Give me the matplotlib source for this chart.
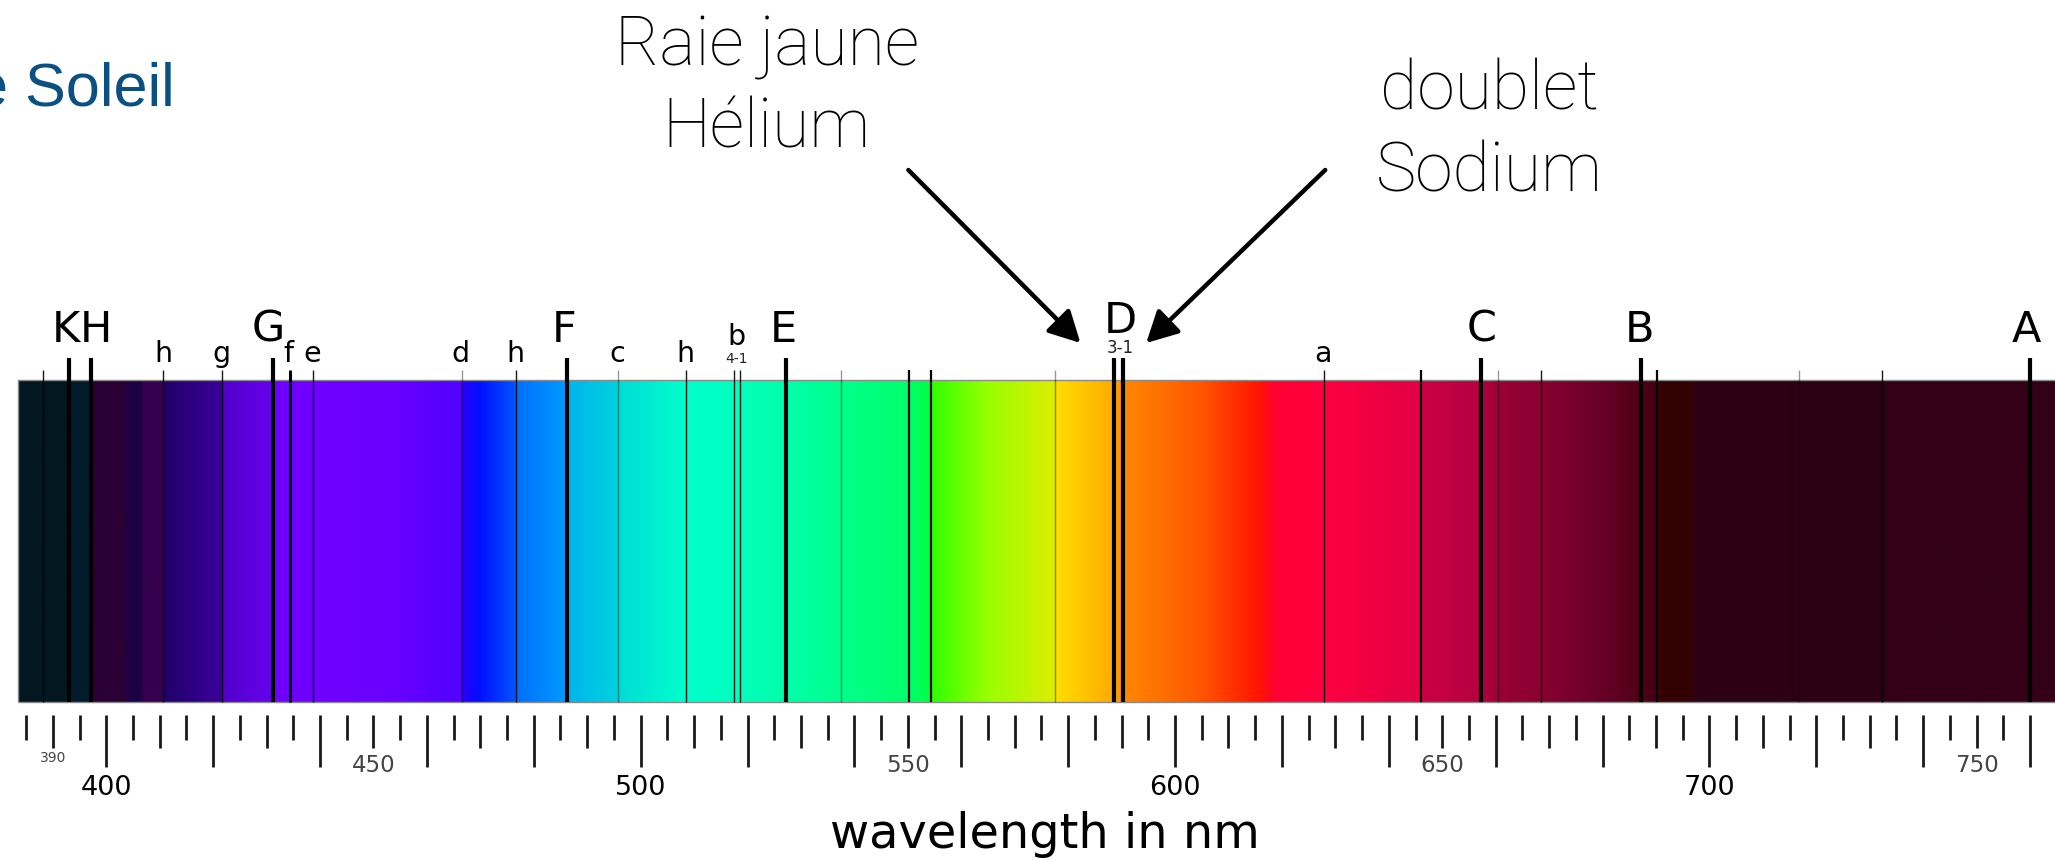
import numpy as np
import matplotlib
matplotlib.use('Agg')
import matplotlib.pyplot as plt
from matplotlib import font_manager as fm
from matplotlib.colors import to_rgb

# colour stops of the solar spectrum (nm, colour)
spec_nm = [383.5, 392.9, 393.2, 397.0, 397.3, 403.5, 404.0, 406.5, 407.0, 410.5,
           410.7, 421.5, 421.7, 430.9, 431.2, 452.0, 466.4, 466.8, 470.0, 476.5,
           476.7, 486.0, 486.3, 495.5, 495.8, 508.4, 518.0, 527.3, 537.3, 550.3,
           554.2, 554.5, 565.0, 577.6, 577.8, 588.5, 590.5, 605.0, 615.5, 619.0,
           627.8, 646.0, 646.2, 657.3, 660.4, 668.5, 680.0, 687.3, 690.3, 691.0,
           696.5, 697.0, 733.0, 733.3, 765.0]
spec_col = ['#021820', '#021820', '#021c2c', '#021c2c', '#2a0035', '#2a0035', '#1e0045', '#1e0045', '#35004f', '#35004f',
            '#200068', '#3a009a', '#5200c8', '#6600ee', '#7000ff', '#6c00ff', '#5000ff', '#2800ff', '#0010ff', '#0055ff',
            '#0070ff', '#0099ff', '#00b4ee', '#00d2dd', '#00dcd6', '#00ffcc', '#00ffbc', '#00ffaa', '#00ff8c', '#00ff6a',
            '#00ff44', '#30ff00', '#99ff00', '#dded00', '#ffdd00', '#ffaa00', '#ff8800', '#ff5500', '#ff1500', '#ff0035',
            '#ff0040', '#e00045', '#cc0044', '#b40040', '#9a0035', '#8a0030', '#660025', '#500018', '#440012', '#330000',
            '#330003', '#2e0012', '#2c0014', '#330018', '#330018']

# absorption lines (nm) and their kind
line_nm = [388.2, 393.1, 397.1, 410.6, 421.6, 431.2, 434.4, 438.6, 466.6, 476.6,
           486.2, 495.7, 508.5, 517.4, 518.5, 527.2, 537.5, 550.2, 554.4, 577.6,
           588.6, 590.3, 627.9, 646.1, 657.2, 660.4, 668.5, 687.2, 690.2, 716.8,
           732.3, 759.9]
line_kind = ['thin', 'major', 'major', 'thin', 'thin', 'major', 'strong', 'thin', 'faint', 'thin',
             'major', 'faint', 'thin', 'thin', 'thin', 'major', 'faint', 'mid', 'mid', 'faint',
             'major', 'major', 'thin', 'mid', 'major', 'faint', 'thin', 'major', 'mid', 'faint',
             'thin', 'major']

# Fraunhofer letters
big_letters = ['K', 'H', 'G', 'F', 'E', 'D', 'C', 'B', 'A']
big_letter_nm = [392.5, 398.0, 430.3, 485.6, 526.8, 589.7, 657.3, 686.9, 759.3]
small_letters = ['h', 'g', 'f', 'e', 'd', 'h', 'c', 'h', 'b', 'a']
small_letter_nm = [410.6, 421.6, 434.0, 438.6, 466.2, 476.6, 495.7, 508.3, 517.9, 627.7]
sub_labels = ['4-1', '3-1']
sub_label_nm = [517.9, 589.7]

# ruler
tick_nm = np.arange(385, 761, 5)
big_tick_labels = [400, 500, 600, 700]
small_tick_labels = [390, 450, 550, 650, 750]

# annotations
notes = [['Raie jaune', 'Hélium'], ['doublet', 'Sodium']]
note_nm = [523.6, 658.9]
arrow_from_nm = [550.1, 628.1]
arrow_to_nm = [582.3, 594.6]


def light_family():
    for fam in ['Roboto', 'Lato', 'Open Sans']:
        for f in fm.fontManager.ttflist:
            w = f.weight if isinstance(f.weight, int) else fm.weight_dict.get(f.weight, 400)
            if f.name == fam and w <= 300:
                return fam
    return 'Liberation Sans'


kind_style = {
    'major': dict(top=358, lw=3.0, color='black', alpha=1.0),
    'strong': dict(top=370, lw=2.2, color='black', alpha=1.0),
    'mid': dict(top=370, lw=1.6, color='black', alpha=1.0),
    'thin': dict(top=370, lw=1.0, color='black', alpha=0.9),
    'faint': dict(top=370, lw=1.0, color='black', alpha=0.4),
}

fig = plt.figure(figsize=(20.55, 8.6), dpi=100)
ax = fig.add_axes([0, 0, 1, 1])

# spectrum band
grid = np.linspace(spec_nm[0], spec_nm[-1], 4000)
rgb = np.array([to_rgb(c) for c in spec_col])
img = np.stack([np.interp(grid, spec_nm, rgb[:, k]) for k in range(3)], axis=-1)[None, :, :]
ax.imshow(img, extent=[spec_nm[0], spec_nm[-1], 702, 380], aspect='auto', interpolation='bilinear')
ax.hlines([380, 702], spec_nm[0], spec_nm[-1], color='#8a8a8a', lw=1)
ax.vlines(spec_nm[0], 380, 702, color='#8a8a8a', lw=1)

for nm, kind in zip(line_nm, line_kind):
    st = kind_style[kind]
    ax.vlines(nm, st['top'], 702, color=st['color'], lw=st['lw'], alpha=st['alpha'])

for lab, nm in zip(big_letters, big_letter_nm):
    y = 333 if lab == 'D' else 342
    ax.text(nm, y, lab, fontsize=31, ha='center', va='baseline')
for lab, nm in zip(small_letters, small_letter_nm):
    y = 345 if lab == 'b' else 362
    ax.text(nm, y, lab, fontsize=20.5, ha='center', va='baseline')
for lab, nm in zip(sub_labels, sub_label_nm):
    y = 353 if lab == '3-1' else 363
    ax.text(nm, y, lab, fontsize=12 if lab == '3-1' else 10, ha='center', va='baseline', color='#222222')

# ruler below the band
for t in tick_nm:
    if t % 20 == 0:
        bot = 767
    elif t % 10 == 0:
        bot = 748
    else:
        bot = 740
    ax.vlines(t, 715, bot, color='#1a1a1a', lw=2.0)
for t in big_tick_labels:
    ax.text(t, 795, str(t), fontsize=19.5, ha='center', va='baseline')
for t in small_tick_labels:
    if t == 390:
        ax.text(t, 761.5, str(t), fontsize=10, ha='center', va='baseline', color='#444444')
    else:
        ax.text(t, 771.5, str(t), fontsize=16.5, ha='center', va='baseline', color='#444444')
ax.text(575.7, 848, 'wavelength in nm', fontsize=34.5, ha='center', va='baseline')

# title fragment and annotations
lf = light_family()
ax.text(412.9, 105, 'e Soleil', fontsize=44, ha='right', va='baseline', color='#0b5083',
        family='Liberation Sans')
base = [[65, 147], [110, 192]]
for lines, nm, ys in zip(notes, note_nm, base):
    for txt, y in zip(lines, ys):
        ax.text(nm, y, txt, fontsize=49, ha='center', va='baseline', family=lf, fontweight='light')
for a, b in zip(arrow_from_nm, arrow_to_nm):
    ax.annotate('', xy=(b, 343), xytext=(a, 170),
                arrowprops=dict(arrowstyle='-|>,head_length=0.95,head_width=0.5', lw=3.2,
                                color='black', mutation_scale=20, shrinkA=0, shrinkB=0))

ax.set_xlim(380.12, 764.66)
ax.set_ylim(860, 0)
ax.axis('off')

fig.savefig('out.png', dpi=100)
